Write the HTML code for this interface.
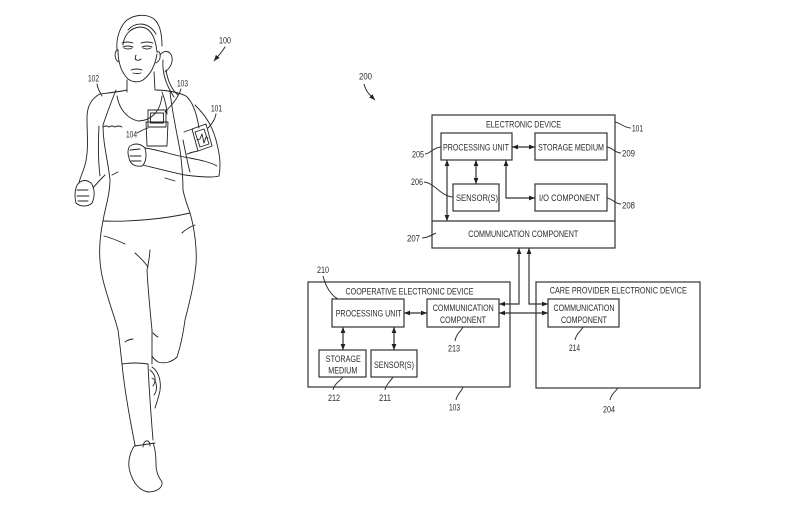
<!DOCTYPE html>
<html><head><meta charset="utf-8"><style>
html,body{margin:0;padding:0;background:#fff;}
svg{display:block;}
text{font-family:"Liberation Sans",sans-serif;font-size:9.5px;fill:#2a2a2a;}
</style></head><body>
<svg width="800" height="525" viewBox="0 0 800 525" xmlns="http://www.w3.org/2000/svg">
<defs>
<marker id="a" viewBox="0 0 10 10" refX="10" refY="5" markerWidth="6" markerHeight="6" markerUnits="userSpaceOnUse" orient="auto-start-reverse"><path d="M0,1 L10,5 L0,9 z" fill="#222"/></marker>
</defs>
<rect width="800" height="525" fill="#fff"/>

<!-- ===== Runner figure ===== -->
<g fill="none" stroke="#222" stroke-width="0.9" stroke-linecap="round" stroke-linejoin="round">
<!-- hair -->
<path d="M117,50 C116,38 120,26 127,20 C134,15 146,13 154,19 C160,24 162,35 162,46"/>
<path d="M123,45 C124,35 130,28 140,27 C148,27 155,33 157,52"/>
<path d="M128,30 C135,22 148,21 156,34"/>
<path d="M160,55 C164,50 170,50 172,57 C173,63 170,68 165,72"/>
<path d="M163,60 C162,72 166,85 174,97"/>
<path d="M166,70 C168,82 172,90 178,95"/>
<!-- face -->
<path d="M118,50 C118,62 121,72 128,79 C132,82 138,83 143,80 C150,75 155,66 157,54"/>
<path d="M118,50 C114,50 114,60 119,62"/>
<path d="M157,52 C161,50 162,60 156,63"/>
<path d="M123,47 Q128,45 133,47 M124,48 Q128,50 132,48"/>
<path d="M142,47 Q147,45 152,47 M143,48 Q147,50 151,48"/>
<path d="M122,43 Q127,41 133,43 M141,43 Q147,41 153,43"/>
<path d="M136,55 Q134,60 137,60 Q139,61 141,59"/>
<path d="M131,70 Q137,68 142,70 M133,73 Q137,74 141,73"/>
<!-- neck -->
<path d="M127,80 L127,92 M154,72 L155,90"/>
<!-- left shoulder and arm -->
<path d="M127,90 C118,92 108,93 100,94 C92,98 87,106 87,118 C87,135 89,150 85,165 C83,172 80,178 79,183"/>
<path d="M116,90 C112,100 108,110 103,125"/>
<path d="M103,125 C103,145 108,160 110,180 C110,195 105,208 103,221"/>
<path d="M99,126 C98,145 98,160 100,176"/>
<path d="M93,188 C97,183 102,178 105,175"/>
<path d="M80,182 C75,185 74,195 76,203 C80,207 88,207 92,203 C95,197 95,188 91,183 C87,180 83,180 80,182 Z"/>
<path d="M77,190 L88,190 M77,196 L89,196 M78,201 L88,201"/>
<!-- neckline and straps -->
<path d="M117,96 C119,108 126,118 138,121 C150,121 160,113 162,96"/>
<path d="M162,92 C165,100 167,108 167,114"/>
<path d="M170,92 C172,110 176,130 180,150 C182,165 183,180 183,190 C185,200 188,207 190,213"/>
<path d="M103,127 Q106,125 109,127 Q112,125 115,127 Q118,125 122,127"/>
<!-- right shoulder / arm -->
<path d="M156,90 C165,90 178,92 186,96 C193,102 197,115 199,128"/>
<path d="M195,105 C205,115 212,125 216,140 C220,155 221,165 219,176"/>
<path d="M183,140 C186,155 188,165 190,172"/>
<!-- armband -->
<path d="M184,132 Q189,130 193,129 M187,154 Q192,152 198,151"/>
<polygon points="192,129 206,124 212,146 198,151"/>
<polygon points="195,132 204,129 209,144 200,147"/>
<path d="M197,140 L200,139 L202,134 L204,143 L206,137 L208,138"/>
<!-- phone & pocket -->
<rect x="148" y="110" width="18" height="17"/>
<rect x="150.5" y="113" width="13" height="10"/>
<path d="M146,122 L168,122 L167,146 L147,146 Z"/>
<!-- right fist and forearm -->
<path d="M132,145 C128,146 127,152 129,158 C130,164 135,167 142,166 C146,163 147,155 145,148 C141,144 136,143 132,145 Z"/>
<path d="M130,150 L140,149 M130,156 L141,156 M131,161 L141,161"/>
<path d="M145,148 C160,150 175,156 190,158 C200,160 210,162 217,166"/>
<path d="M143,165 C155,168 170,172 185,175 C200,177 212,178 219,176"/>
<path d="M112,175 L118,172 M165,178 L175,181"/>
<!-- waist and pants -->
<path d="M103,221 C130,222 165,219 190,213"/>
<path d="M104,236 Q112,238 125,244 M182,233 Q187,228 195,225"/>
<path d="M103,221 C99,240 98,260 103,280 C108,300 114,315 118,330 C120,345 121,355 122,364"/>
<path d="M190,213 C195,230 197,250 196,265 C194,285 190,300 185,320 C183,335 181,345 177,357"/>
<path d="M135,253 Q143,260 148,267"/>
<path d="M150,250 Q149,262 147,270 C148,290 150,310 152,330 L152,364"/>
<path d="M177,357 C172,362 165,364 158,362 C155,360 153,358 152,356"/>
<path d="M122,364 Q135,362 148,364"/>
<path d="M125,342 Q129,339 133,339 M153,333 Q156,336 158,337"/>
<!-- lower legs -->
<path d="M122,364 C124,385 128,410 135,445"/>
<path d="M148,364 C149,390 151,415 153,440"/>
<path d="M152,367 C160,372 162,385 159,395 C157,402 156,405 155,408"/>
<path d="M150,370 C155,374 157,380 153,386 M152,378 C157,380 158,390 154,395"/>
<!-- shoe -->
<path d="M135,445 C130,452 127,462 130,472 C133,482 138,490 148,492 C156,492 163,488 162,482 C159,478 156,472 156,465 C156,455 155,448 153,443"/>
<path d="M143,447 C143,440 150,438 150,446"/>
<path d="M135,446 L155,443"/>
<!-- figure leaders -->
<path d="M97,84 C98,90 100,92 102,96"/>
<path d="M181,89 C178,98 172,105 165,112"/>
<path d="M216,114 C215,120 212,124 208,128"/>
<path d="M137,133 C141,131 144,129 148,128"/>
<path d="M225,47 C222,52 218,56 214,61" marker-end="url(#a)"/>
</g>
<text x="219" y="43.5" textLength="12" lengthAdjust="spacingAndGlyphs">100</text>
<text x="88" y="81.5" textLength="11" lengthAdjust="spacingAndGlyphs">102</text>
<text x="177" y="86.5" textLength="11" lengthAdjust="spacingAndGlyphs">103</text>
<text x="211" y="111.5" textLength="11" lengthAdjust="spacingAndGlyphs">101</text>
<text x="126" y="137.5" textLength="11" lengthAdjust="spacingAndGlyphs">104</text>

<!-- ===== Block diagram ===== -->
<g fill="none" stroke="#333" stroke-width="1.2">
<!-- electronic device -->
<rect x="432" y="115" width="183" height="133"/>
<line x1="432" y1="221" x2="615" y2="221"/>
<rect x="441" y="133" width="71" height="27"/>
<rect x="535" y="133" width="72" height="27"/>
<rect x="453" y="184" width="46" height="27"/>
<rect x="535" y="184" width="72" height="27"/>
<line x1="512" y1="147" x2="535" y2="147" marker-start="url(#a)" marker-end="url(#a)"/>
<line x1="476" y1="160" x2="476" y2="184" marker-start="url(#a)" marker-end="url(#a)"/>
<line x1="447" y1="160" x2="447" y2="221" marker-start="url(#a)" marker-end="url(#a)"/>
<path d="M506,160 V198 H535" marker-start="url(#a)" marker-end="url(#a)"/>
<!-- cooperative -->
<rect x="308" y="282" width="202" height="105"/>
<rect x="332" y="299" width="72" height="28"/>
<rect x="427" y="299" width="72" height="28"/>
<rect x="319" y="350" width="47" height="27"/>
<rect x="371" y="350" width="46" height="27"/>
<line x1="404" y1="313" x2="427" y2="313" marker-start="url(#a)" marker-end="url(#a)"/>
<line x1="343" y1="327" x2="343" y2="350" marker-start="url(#a)" marker-end="url(#a)"/>
<line x1="394" y1="327" x2="394" y2="350" marker-start="url(#a)" marker-end="url(#a)"/>
<!-- care provider -->
<rect x="536" y="282" width="164" height="106"/>
<rect x="548" y="299" width="71" height="28"/>
<!-- connectors -->
<path d="M499,304 H519 V248" marker-start="url(#a)" marker-end="url(#a)"/>
<path d="M529,248 V304 H548" marker-start="url(#a)" marker-end="url(#a)"/>
<line x1="499" y1="313" x2="548" y2="313" marker-start="url(#a)" marker-end="url(#a)"/>
<!-- leaders -->
<g stroke-width="1">
<path d="M425,154 C430,154 432,148 441,147"/>
<path d="M424,182 C435,183 440,196 453,197"/>
<path d="M422,238 C426,238 430,236 436,233"/>
<path d="M607,147 C613,148 615,153 621,153"/>
<path d="M607,198 C613,199 615,204 621,204"/>
<path d="M615,122 C621,123 624,128 631,128"/>
<path d="M323,276 C326,288 332,296 338,299"/>
<path d="M455,341 C456,334 461,331 463,327"/>
<path d="M333,390 C334,384 340,381 343,377"/>
<path d="M385,390 C386,384 391,381 393,377"/>
<path d="M456,400 C457,394 462,391 463,387"/>
<path d="M575,340 C576,334 581,331 583,327"/>
<path d="M610,400 C611,394 616,391 618,388"/>
<path d="M364,84 C366,92 370,95 375,100" marker-end="url(#a)"/>
</g>
</g>

<g text-anchor="middle">
<text x="523.5" y="127.5" textLength="75" lengthAdjust="spacingAndGlyphs">ELECTRONIC DEVICE</text>
<text x="476" y="150.5" textLength="66" lengthAdjust="spacingAndGlyphs">PROCESSING UNIT</text>
<text x="571" y="150.5" textLength="66" lengthAdjust="spacingAndGlyphs">STORAGE MEDIUM</text>
<text x="477" y="201" textLength="42" lengthAdjust="spacingAndGlyphs">SENSOR(S)</text>
<text x="569.5" y="201" textLength="61" lengthAdjust="spacingAndGlyphs">I/O COMPONENT</text>
<text x="523.3" y="237" textLength="110" lengthAdjust="spacingAndGlyphs">COMMUNICATION COMPONENT</text>
<text x="409.5" y="294.5" textLength="128" lengthAdjust="spacingAndGlyphs">COOPERATIVE ELECTRONIC DEVICE</text>
<text x="368.7" y="316.5" textLength="66" lengthAdjust="spacingAndGlyphs">PROCESSING UNIT</text>
<text x="463.3" y="311" textLength="61" lengthAdjust="spacingAndGlyphs">COMMUNICATION</text>
<text x="463" y="323" textLength="46" lengthAdjust="spacingAndGlyphs">COMPONENT</text>
<text x="343.3" y="362" textLength="35" lengthAdjust="spacingAndGlyphs">STORAGE</text>
<text x="342.8" y="373.5" textLength="29" lengthAdjust="spacingAndGlyphs">MEDIUM</text>
<text x="394" y="368" textLength="40" lengthAdjust="spacingAndGlyphs">SENSOR(S)</text>
<text x="618.3" y="293.5" textLength="137" lengthAdjust="spacingAndGlyphs">CARE PROVIDER ELECTRONIC DEVICE</text>
<text x="584" y="311" textLength="61" lengthAdjust="spacingAndGlyphs">COMMUNICATION</text>
<text x="584" y="323" textLength="46" lengthAdjust="spacingAndGlyphs">COMPONENT</text>
</g>

<text x="412" y="157.5" textLength="12" lengthAdjust="spacingAndGlyphs">205</text>
<text x="411" y="185" textLength="12" lengthAdjust="spacingAndGlyphs">206</text>
<text x="407" y="241.5" textLength="13" lengthAdjust="spacingAndGlyphs">207</text>
<text x="622" y="156.5" textLength="13" lengthAdjust="spacingAndGlyphs">209</text>
<text x="622" y="208.5" textLength="13" lengthAdjust="spacingAndGlyphs">208</text>
<text x="632" y="131.5" textLength="11" lengthAdjust="spacingAndGlyphs">101</text>
<text x="359" y="79.5" textLength="13" lengthAdjust="spacingAndGlyphs">200</text>
<text x="317" y="273" textLength="12" lengthAdjust="spacingAndGlyphs">210</text>
<text x="448" y="351.5" textLength="12" lengthAdjust="spacingAndGlyphs">213</text>
<text x="328" y="401" textLength="12" lengthAdjust="spacingAndGlyphs">212</text>
<text x="379" y="401" textLength="12" lengthAdjust="spacingAndGlyphs">211</text>
<text x="449" y="410.5" textLength="11" lengthAdjust="spacingAndGlyphs">103</text>
<text x="569" y="351" textLength="11" lengthAdjust="spacingAndGlyphs">214</text>
<text x="603" y="412.5" textLength="12" lengthAdjust="spacingAndGlyphs">204</text>
</svg>
</body></html>
